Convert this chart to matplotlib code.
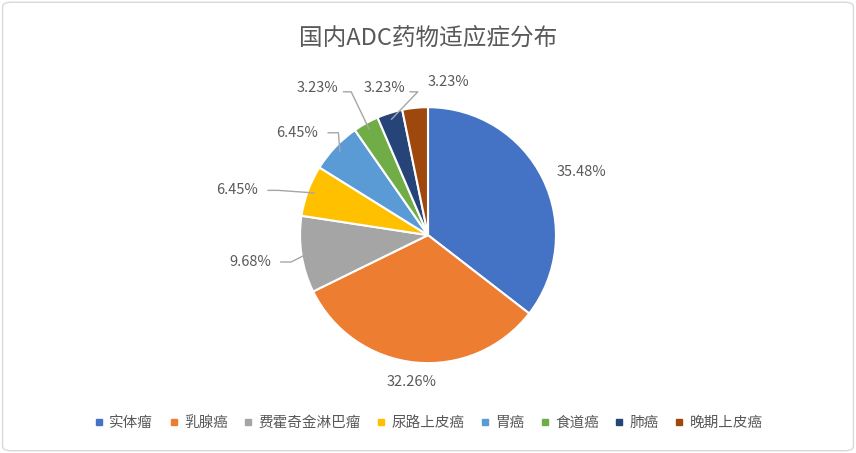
import matplotlib
matplotlib.use("Agg")
import matplotlib.pyplot as plt
import numpy as np
from matplotlib.patches import FancyBboxPatch

plt.rcParams['font.family'] = ['Noto Sans CJK SC', 'DejaVu Sans']

categories = ['实体瘤', '乳腺癌', '费霍奇金淋巴瘤', '尿路上皮癌', '胃癌', '食道癌', '肺癌', '晚期上皮癌']
values = [11, 10, 3, 2, 2, 1, 1, 1]
pct_labels = ['35.48%', '32.26%', '9.68%', '6.45%', '6.45%', '3.23%', '3.23%', '3.23%']
colors = ['#4472C4', '#ED7D31', '#A5A5A5', '#FFC000', '#5B9BD5', '#70AD47', '#264478', '#9E480E']

fig = plt.figure(figsize=(8.56, 4.53), dpi=100)
fig.patches.append(FancyBboxPatch((0.003, 0.005), 0.994, 0.99, boxstyle="round,pad=0,rounding_size=0.01",
                                  transform=fig.transFigure, fc='white', ec='#D9D9D9', lw=1, zorder=-5))
fig.text(0.5, 0.915, '国内ADC药物适应症分布', ha='center', va='center', fontsize=17, color='#595959')

ax = fig.add_axes([0.5 - 0.1495, 0.481 - 0.2826, 0.299, 0.565])
ax.patch.set_visible(False)
wedges, _ = ax.pie(values, colors=colors, startangle=90, counterclock=False,
                   wedgeprops=dict(edgecolor='white', linewidth=1.5))
ax.set_xlim(-1, 1); ax.set_ylim(-1, 1)
ax.set_aspect('equal')

label_pos = [(1.20, 0.49), (-0.125, -1.15), (-1.39, -0.21), (-1.49, 0.35),
             (-1.02, 0.80), (-0.86, 1.15), (-0.34, 1.15), (0.16, 1.20)]
leaders = [False, False, True, True, True, True, True, False]
for w, lab, (x, y), lead in zip(wedges, pct_labels, label_pos, leaders):
    ang = np.deg2rad((w.theta1 + w.theta2) / 2)
    ax.text(x, y, lab, ha='center', va='center', fontsize=10.5, color='#595959', clip_on=False)
    if lead:
        ex, ey = 0.95 * np.cos(ang), 0.95 * np.sin(ang)
        if y > 1.0:
            lx, ly = x + 0.2 * (1 if x < ex else -1), y - 0.03
            ax.plot([lx, lx + (0.06 if x < ex else -0.06), ex], [ly, ly, ey], color='#A6A6A6', lw=1, clip_on=False)
        else:
            lx = x + 0.24
            ax.plot([lx, lx + 0.08, ex], [y, y, ey], color='#A6A6A6', lw=1, clip_on=False)

handles = [plt.Line2D([], [], marker='s', ls='', color=c, markersize=5) for c in colors]
fig.legend(handles, categories, loc='center', bbox_to_anchor=(0.5, 0.066), ncol=8, frameon=False,
           fontsize=10.5, handlelength=0.8, handletextpad=0.3, columnspacing=1.0, labelcolor='#595959')
fig.savefig('out.png', dpi=100)
